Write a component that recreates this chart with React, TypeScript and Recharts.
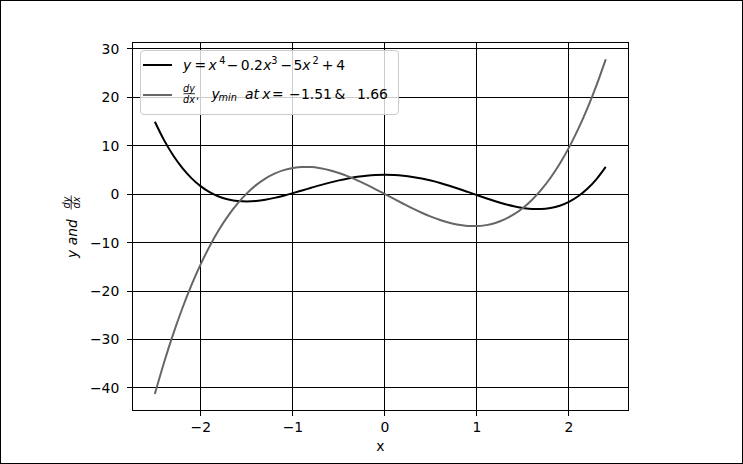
import React from 'react'
import { CartesianGrid, Line, LineChart, ReferenceArea, XAxis, YAxis } from 'recharts'

const xs = [
  -2.5, -2.4, -2.3, -2.2, -2.1, -2.0, -1.9, -1.8, -1.7, -1.6,
  -1.5, -1.4, -1.3, -1.2, -1.1, -1.0, -0.9, -0.8, -0.7, -0.6,
  -0.5, -0.4, -0.3, -0.2, -0.1, 0.0, 0.1, 0.2, 0.3, 0.4,
  0.5, 0.6, 0.7, 0.8, 0.9, 1.0, 1.1, 1.2, 1.3, 1.4,
  1.5, 1.6, 1.7, 1.8, 1.9, 2.0, 2.1, 2.2, 2.3, 2.4,
]

const yVals = [
  14.94, 11.14, 7.97, 5.36, 3.25, 1.6, 0.35, -0.54, -1.12, -1.43,
  -1.51, -1.41, -1.15, -0.78, -0.32, 0.2, 0.75, 1.31, 1.86, 2.37,
  2.84, 3.24, 3.56, 3.8, 3.95, 4.0, 3.95, 3.8, 3.55, 3.21,
  2.79, 2.29, 1.72, 1.11, 0.46, -0.2, -0.85, -1.47, -2.03, -2.51,
  -2.86, -3.07, -3.08, -2.87, -2.39, -1.6, -0.45, 1.1, 3.1, 5.61,
]

const dyVals = [
  -41.25, -34.75, -28.84, -23.5, -18.69, -14.4, -10.6, -7.27, -4.39, -1.92,
  0.15, 1.85, 3.2, 4.22, 4.95, 5.4, 5.6, 5.57, 5.33, 4.92,
  4.35, 3.65, 2.84, 1.94, 0.99, 0.0, -1.0, -1.99, -2.95, -3.84,
  -4.65, -5.35, -5.92, -6.34, -6.57, -6.6, -6.4, -5.95, -5.23, -4.2,
  -2.85, -1.15, 0.92, 3.38, 6.27, 9.6, 13.4, 17.69, 22.49, 27.84,
]

const xTicks = [-2, -1, 0, 1, 2]
const yTicks = [-40, -30, -20, -10, 0, 10, 20, 30]
const xDomain = [-2.745, 2.645]
const yDomain = [-44.7, 31.29]

const data = xs.map((x, i) => ({ x, y: yVals[i], dy: dyVals[i] }))

const FONT = 'DejaVu Sans, sans-serif'
const minus = (v: number) => String(v).replace('-', '\u2212')

const YLabel = () => (
  <g transform="translate(72,227) rotate(-90)" fontFamily={FONT} fill="#000">
    <text x={-31} y={5} fontSize={13.9} fontStyle="italic">y and</text>
    <text x={24.5} y={-2.5} fontSize={9.7} fontStyle="italic" textAnchor="middle">dy</text>
    <line x1={17.5} x2={31.5} y1={-0.8} y2={-0.8} stroke="#000" strokeWidth={0.8} />
    <text x={24.5} y={8} fontSize={9.7} fontStyle="italic" textAnchor="middle">dx</text>
  </g>
)

const XLabel = () => (
  <text x={380.3} y={451} textAnchor="middle" fontFamily={FONT} fontSize={13.9} fill="#000">x</text>
)

// legend tokens drawn in svg, coordinates relative to the legend frame
function LegendBox() {
  const T = (x: number, y: number, s: string, it = false, fs = 13.9) => (
    <text x={x} y={y} fontSize={fs} fontStyle={it ? 'italic' : 'normal'}>{s}</text>
  )
  return (
    <div style={{
      position: 'absolute', left: 140, top: 50, width: 259, height: 65, boxSizing: 'border-box',
      border: '1px solid #cccccc', borderRadius: 4, background: 'rgba(255,255,255,0.8)',
    }}>
      <svg width={259} height={65} style={{ position: 'absolute', left: -1, top: -1, overflow: 'visible' }}
        fontFamily={FONT} fill="#000">
        <line x1={3} x2={32} y1={15} y2={15} stroke="#000" strokeWidth={2} />
        {T(43, 20.3, 'y', true)}
        {T(54.6, 20.3, '=')}
        {T(68.4, 20.3, 'x', true)}
        {T(79.3, 14.3, '4', false, 9.7)}
        {T(86.7, 20.3, '\u2212')}
        {T(100.8, 20.3, '0.2')}
        {T(123.3, 20.3, 'x', true)}
        {T(131.2, 14.3, '3', false, 9.7)}
        {T(140.4, 20.3, '\u2212')}
        {T(153.6, 20.3, '5')}
        {T(162.3, 20.3, 'x', true)}
        {T(172.6, 14.3, '2', false, 9.7)}
        {T(181.8, 20.3, '+')}
        {T(196.2, 20.3, '4')}

        <line x1={3} x2={32} y1={45} y2={45} stroke="#666666" strokeWidth={2} />
        <text x={49} y={42} fontSize={9.7} fontStyle="italic" textAnchor="middle">dy</text>
        <line x1={43.5} x2={55} y1={43.7} y2={43.7} stroke="#000" strokeWidth={0.8} />
        <text x={49} y={53} fontSize={9.7} fontStyle="italic" textAnchor="middle">dx</text>
        {T(56, 48.7, ',', false, 10)}
        {T(71.5, 48.7, 'y', true)}
        {T(78.5, 51.2, 'min', true, 9.7)}
        {T(105, 48.7, 'at', true)}
        {T(122.3, 48.7, 'x', true)}
        {T(132, 48.7, '=')}
        {T(149, 48.7, '\u2212')}
        {T(161, 48.7, '1.51')}
        {T(194.5, 48.7, '&')}
        {T(217, 48.7, '1.66')}
      </svg>
    </div>
  )
}

export default function App() {
  return (
    <div style={{ position: 'absolute', left: 0, top: 0, width: 743, height: 464, background: '#fff' }}>
      <style>{'.recharts-cartesian-grid line, .recharts-cartesian-axis-line, .recharts-cartesian-axis-tick-line, .recharts-reference-area-rect { shape-rendering: crispEdges; }'}</style>
      <LineChart width={743} height={464} data={data} margin={{ top: 42.5, right: 114.7, left: 0, bottom: 0 }}>
        <CartesianGrid stroke="#000" strokeWidth={1} />
        <XAxis
          type="number" dataKey="x" domain={xDomain} ticks={xTicks} allowDataOverflow
          height={53.3} tickSize={5} tickMargin={6.7} tickFormatter={minus}
          axisLine={{ stroke: '#000' }} tickLine={{ stroke: '#000' }}
          tick={{ fontSize: 13.9, fill: '#000', fontFamily: FONT }}
          label={<XLabel />}
        />
        <YAxis
          type="number" domain={yDomain} ticks={yTicks} allowDataOverflow
          width={132.3} tickSize={5} tickMargin={8} tickFormatter={minus}
          axisLine={{ stroke: '#000' }} tickLine={{ stroke: '#000' }}
          tick={{ fontSize: 13.9, fill: '#000', fontFamily: FONT }}
          label={<YLabel />}
        />
        <ReferenceArea x1={xDomain[0]} x2={xDomain[1]} y1={yDomain[0]} y2={yDomain[1]} fill="none" stroke="#000" strokeWidth={1} ifOverflow="visible" />
        <Line type="monotone" dataKey="y" stroke="#000" strokeWidth={2} dot={false} isAnimationActive={false} />
        <Line type="monotone" dataKey="dy" stroke="#666666" strokeWidth={2} dot={false} isAnimationActive={false} />
      </LineChart>
      <LegendBox />
      <div style={{ position: 'absolute', left: 0, top: 0, width: 743, height: 464, boxSizing: 'border-box', border: '1px solid #000', pointerEvents: 'none' }} />
    </div>
  )
}
